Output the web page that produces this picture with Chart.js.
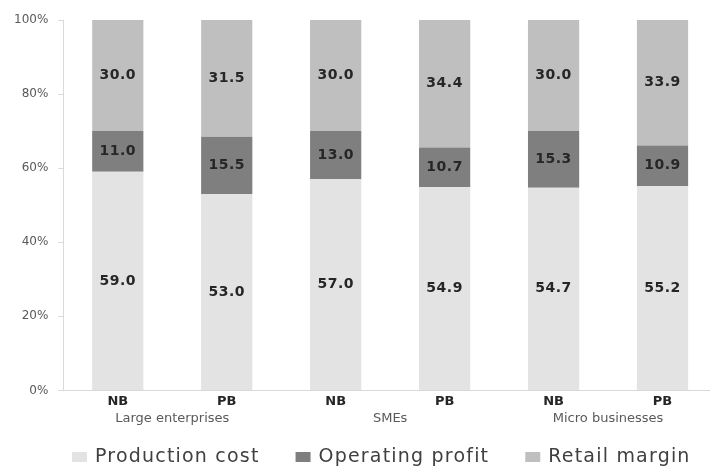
<!DOCTYPE html>
<html>
<head>
<meta charset="utf-8">
<script src="https://cdn.jsdelivr.net/npm/chart.js@4/dist/chart.umd.min.js"></script>
<style>
  html, body { margin: 0; padding: 0; background: #fff; overflow: hidden; }
  #wrap { width: 720px; height: 468px; }
</style>
</head>
<body>
<div id="wrap"><canvas id="grafic"></canvas></div>
<script>
// Dades del gràfic
const barres = ['NB', 'PB', 'NB', 'PB', 'NB', 'PB'];
const grups = ['Large enterprises', 'SMEs', 'Micro businesses'];
const costProduccio = [59.0, 53.0, 57.0, 54.9, 54.7, 55.2];
const beneficiOperatiu = [11.0, 15.5, 13.0, 10.7, 15.3, 10.9];
const margeMinorista = [30.0, 31.5, 30.0, 34.4, 30.0, 33.9];
const ticksY = [0, 20, 40, 60, 80, 100];

// Plugin per escriure el valor dins de cada segment
const etiquetesValors = {
    id: 'etiquetesValors',
    afterDatasetsDraw(chart) {
        const ctx = chart.ctx;
        ctx.save();
        ctx.font = 'bold 14px "DejaVu Sans"';
        ctx.letterSpacing = '0.5px';
        ctx.fillStyle = '#262626';
        ctx.textAlign = 'center';
        ctx.textBaseline = 'middle';
        chart.data.datasets.forEach((ds, i) => {
            const meta = chart.getDatasetMeta(i);
            meta.data.forEach((bar, j) => {
                const y = (bar.y + bar.base) / 2;
                ctx.fillText(ds.data[j].toFixed(1), bar.x, y);
            });
        });
        ctx.restore();
    }
};

// Plugin per dibuixar la llegenda a sota
const llegenda = {
    id: 'llegenda',
    afterDraw(chart, args, opts) {
        const ctx = chart.ctx;
        ctx.save();
        ctx.font = '19px "DejaVu Sans"';
        ctx.letterSpacing = '1.2px';
        ctx.textBaseline = 'middle';
        ctx.textAlign = 'left';
        let x = opts.inici;
        const y = chart.height - opts.baix;
        chart.data.datasets.forEach(ds => {
            ctx.fillStyle = ds.backgroundColor;
            ctx.fillRect(x, y - 5, 15, 10);
            ctx.fillStyle = '#404040';
            const tx = x + 23;
            ctx.fillText(ds.label, tx, y);
            x = tx + ctx.measureText(ds.label).width + opts.espai;
        });
        ctx.restore();
    }
};

const ctx = document.getElementById('grafic').getContext('2d');
new Chart(ctx, {
    type: 'bar',
    data: {
        labels: barres,
        datasets: [
            { label: 'Production cost', data: costProduccio, backgroundColor: '#e3e3e3' },
            { label: 'Operating profit', data: beneficiOperatiu, backgroundColor: '#7f7f7f' },
            { label: 'Retail margin', data: margeMinorista, backgroundColor: '#bfbfbf' }
        ]
    },
    options: {
        responsive: true,
        maintainAspectRatio: false,
        animation: false,
        datasets: { bar: { barPercentage: 0.47, categoryPercentage: 1 } },
        layout: { padding: { left: 4, right: 3, top: 20, bottom: 42 } },
        plugins: {
            tooltip: { enabled: false },
            legend: { display: false },
            llegenda: { inici: 72, baix: 11, espai: 36 }
        },
        scales: {
            x: {
                stacked: true,
                grid: { display: false, drawTicks: false },
                border: { color: '#d9d9d9' },
                ticks: { color: '#262626', padding: 3, font: { family: '"DejaVu Sans"', weight: 'bold', size: 13 } }
            },
            x2: {
                type: 'category',
                labels: grups,
                position: 'bottom',
                offset: true,
                grid: { display: false, drawTicks: false },
                border: { display: false },
                ticks: { color: '#595959', padding: 0, font: { family: '"DejaVu Sans"', size: 13, lineHeight: '14px' } }
            },
            y: {
                stacked: true,
                min: 0,
                max: 100,
                afterBuildTicks: (scale) => { scale.ticks = ticksY.map(v => ({ value: v })); },
                grid: { drawOnChartArea: false, drawTicks: true, tickLength: 5, color: '#d9d9d9' },
                border: { color: '#d9d9d9' },
                ticks: {
                    color: '#595959',
                    padding: 10,
                    font: { family: '"DejaVu Sans"', size: 12 },
                    callback: (v) => v + '%'
                }
            }
        }
    },
    plugins: [etiquetesValors, llegenda]
});
</script>
</body>
</html>
